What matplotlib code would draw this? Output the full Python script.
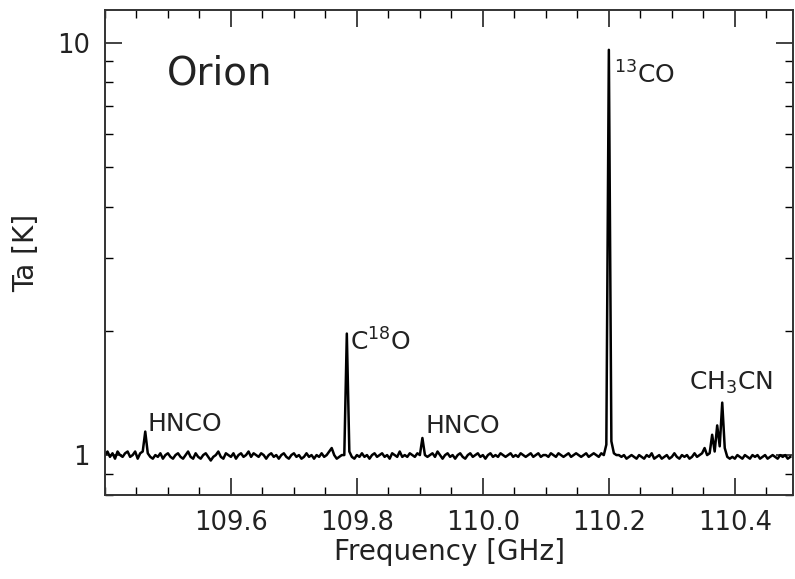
import matplotlib
matplotlib.use("Agg")
import matplotlib.pyplot as plt
import numpy as np
from matplotlib.ticker import FixedLocator, MultipleLocator, NullFormatter

# ── spectrum ────────────────────────────────────────────────────────────────
FREQ_START_GHZ = 109.400   # first channel
CHANNEL_GHZ = 0.004        # channel spacing

TA_K = [
    1.00, 1.02, 0.99, 1.01, 0.98, 1.02, 1.00, 0.99, 1.01, 1.02,   # 109.400
    0.99, 1.00, 1.02, 0.98, 1.01, 1.02, 1.14, 1.01, 0.99, 0.98,   # 109.440
    1.00, 0.99, 1.01, 0.98, 1.00, 1.01, 0.99, 0.98, 1.00, 1.01,
    0.99, 0.98, 1.00, 1.02, 0.99, 0.98, 1.01, 0.99, 0.98, 1.00,
    1.01, 0.99, 0.97, 0.99, 1.00, 1.02, 0.99, 0.98, 1.01, 1.00,
    0.99, 1.01, 0.98, 1.00, 1.01, 0.99, 1.00, 1.02, 0.99, 1.01,
    1.00, 0.99, 1.01, 1.00, 0.98, 1.00, 1.01, 0.99, 1.00, 0.98,
    1.00, 1.01, 0.99, 0.98, 1.00, 1.01, 0.99, 1.00, 0.98, 0.99,
    1.01, 0.99, 1.00, 0.98, 1.00, 0.99, 1.01, 0.99, 1.00, 1.02,
    1.04, 1.00, 0.98, 0.99, 1.00, 1.00, 1.97, 1.02, 0.99, 0.98,   # 109.760
    1.00, 0.99, 1.01, 0.99, 1.00, 0.98, 1.00, 1.01, 0.99, 1.00,
    1.01, 0.99, 1.00, 0.98, 1.01, 1.00, 0.99, 1.02, 0.99, 1.00,
    0.99, 1.01, 1.00, 0.99, 1.01, 1.00, 1.10, 1.00, 0.99, 1.00,   # 109.880
    1.01, 0.99, 1.02, 1.00, 0.98, 1.00, 1.01, 0.99, 1.00, 0.98,
    1.00, 1.01, 0.99, 0.98, 1.00, 1.01, 0.99, 1.00, 1.01, 0.99,
    1.00, 0.98, 1.00, 1.01, 0.99, 1.00, 0.99, 1.01, 1.00, 0.99,
    1.00, 1.01, 0.99, 1.00, 0.99, 1.01, 1.00, 0.99, 1.00, 1.01,
    0.99, 1.00, 1.01, 0.99, 1.00, 1.00, 0.99, 1.01, 1.00, 0.99,
    1.01, 1.00, 0.99, 1.00, 1.01, 0.99, 1.00, 1.01, 1.00, 0.99,
    1.00, 1.01, 0.99, 1.00, 1.01, 1.00, 0.99, 1.01, 1.00, 1.06,   # 110.160
    9.60, 1.08, 1.01, 1.00, 1.00, 0.99, 1.00, 0.98, 0.99, 1.00,   # 110.200
    0.99, 0.98, 1.00, 0.99, 0.98, 1.00, 0.99, 1.01, 0.98, 0.99,
    1.00, 0.98, 0.99, 1.00, 0.98, 0.99, 1.01, 0.99, 0.98, 1.00,
    0.99, 1.00, 0.98, 0.99, 1.01, 0.99, 1.00, 1.01, 1.04, 1.00,
    1.01, 1.12, 1.02, 1.18, 1.05, 1.34, 1.04, 0.99, 0.98, 0.99,   # 110.360
    0.98, 1.00, 0.99, 0.98, 1.00, 0.99, 0.98, 1.00, 0.99, 1.00,
    0.98, 0.99, 1.00, 0.98, 0.99, 1.00, 0.99, 0.98, 1.00, 0.99,
    1.00, 0.98, 0.99,
]

LINE_LABELS = ["HNCO", "C$^{18}$O", "HNCO", "$^{13}$CO", "CH$_3$CN"]
LABEL_FREQ = [109.468, 109.789, 109.9095, 110.208, 110.327]
LABEL_TA = [1.143, 1.79, 1.13, 7.96, 1.436]

X_TICKS = [109.6, 109.8, 110.0, 110.2, 110.4]


def main() -> None:
    freq = FREQ_START_GHZ + CHANNEL_GHZ * np.arange(len(TA_K))
    ta = np.asarray(TA_K)

    plt.rcParams.update({
        "font.family": "DejaVu Sans",
        "xtick.direction": "in", "ytick.direction": "in",
        "xtick.top": True, "ytick.right": True,
    })

    fig = plt.figure(figsize=(7.95, 5.79), dpi=100)
    ax = fig.add_axes([0.132, 0.145, 0.866, 0.838])

    ax.plot(freq, ta, color="black", lw=1.8)

    ax.set_yscale("log")
    ax.set_xlim(109.40, 110.493)
    ax.set_ylim(0.8, 12.0)

    ax.xaxis.set_major_locator(FixedLocator(X_TICKS))
    ax.xaxis.set_minor_locator(MultipleLocator(0.05))
    ax.set_xticklabels([f"{v:.1f}" for v in X_TICKS])
    ax.yaxis.set_major_locator(FixedLocator([1, 10]))
    ax.set_yticklabels(["1", "10"])
    ax.yaxis.set_minor_locator(FixedLocator([0.8, 0.9, 2, 3, 4, 5, 6, 7, 8, 9]))
    ax.yaxis.set_minor_formatter(NullFormatter())

    ax.tick_params(which="major", length=12, width=1.2, labelsize=18.5, pad=11,
                   colors="#222222")
    ax.tick_params(which="minor", length=6, width=1.0)
    for s in ax.spines.values():
        s.set_linewidth(1.4)
        s.set_color("#333333")

    ax.set_xlabel("Frequency [GHz]", fontsize=20, labelpad=1, color="#222222")
    ax.set_ylabel("Ta [K]", fontsize=20, labelpad=12, color="#222222")

    for lab, fx, ty in zip(LINE_LABELS, LABEL_FREQ, LABEL_TA):
        ax.text(fx, ty, lab, fontsize=18, va="baseline", ha="left",
                color="#222222")

    ax.text(109.4984, 7.92, "Orion", fontsize=28, va="baseline", ha="left",
            color="#222222")

    fig.savefig("out.png", dpi=100)


if __name__ == "__main__":
    main()
